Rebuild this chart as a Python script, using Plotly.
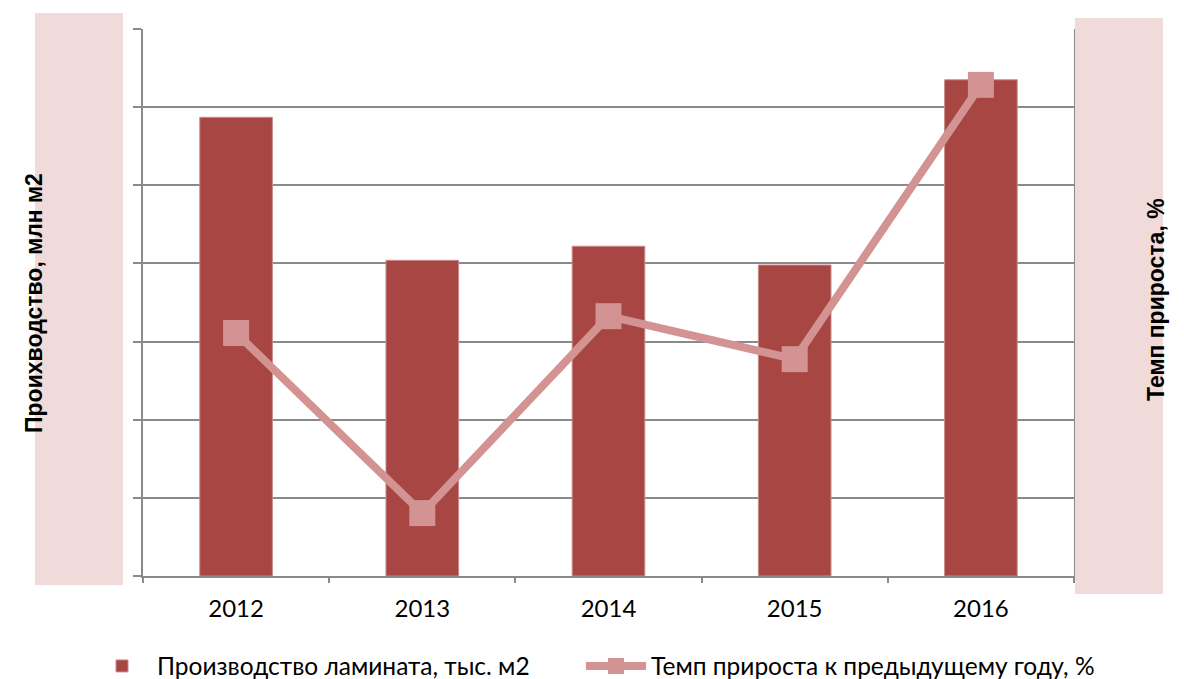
import plotly.graph_objects as go

years = ["2012", "2013", "2014", "2015", "2016"]
production = [58.7, 40.4, 42.2, 39.8, 63.5]
growth = [22.2, -23.9, 26.5, 15.5, 85.7]

bar_name = "Производство ламината, тыс. м2"
line_name = "Темп прироста к предыдущему году, %"
left_title = "Проихводство, млн м2"
right_title = "Темп прироста, %"

BAR = "#A84644"
LINE = "#D49393"
PINK = "#F0DADA"
GRID = "#8A8A8A"
W, H = 1184, 679
L, R, T, B = 143, 1074, 29, 576

def px(x):
    return (x - L) / (R - L)

def py(y):
    return (B - y) / (B - T)

fig = go.Figure()
fig.add_trace(go.Bar(
    x=years, y=production, name=bar_name, width=0.39, legend="legend",
    marker=dict(color=BAR, line=dict(color="#C98B8A", width=1)),
))
fig.add_trace(go.Scatter(
    x=years, y=growth, name=line_name, yaxis="y2", mode="lines+markers", legend="legend2",
    line=dict(color=LINE, width=8),
    marker=dict(symbol="square", size=26, color=LINE),
))

shapes = [
    dict(type="rect", xref="paper", yref="paper", x0=px(35), x1=px(123), y0=py(585), y1=py(13),
         fillcolor=PINK, line=dict(width=0), layer="above"),
    dict(type="rect", xref="paper", yref="paper", x0=px(1075), x1=px(1163), y0=py(594), y1=py(18),
         fillcolor=PINK, line=dict(width=0), layer="above"),
]

annotations = [
    dict(text=left_title, xref="paper", yref="paper", x=px(19), y=py(303), textangle=-90,
         showarrow=False, font=dict(family="Liberation Sans, Arial", size=23, color="black", weight="bold")),
    dict(text=right_title, xref="paper", yref="paper", x=px(1171), y=py(300), textangle=-90,
         showarrow=False, font=dict(family="Liberation Sans, Arial", size=23, color="black", weight="bold")),
]

legend_common = dict(orientation="h", xanchor="left", yanchor="middle", y=py(666),
                     font=dict(size=24.5), itemwidth=60, bgcolor="rgba(0,0,0,0)")

fig.update_layout(
    width=W, height=H,
    margin=dict(l=L, r=W - R, t=T, b=H - B, autoexpand=False),
    paper_bgcolor="white", plot_bgcolor="white",
    font=dict(family="Lato, Open Sans, sans-serif", size=24, color="black"),
    showlegend=True,
    legend=dict(x=px(87), **legend_common),
    legend2=dict(x=px(581), **legend_common),
    bargap=0.61,
    xaxis=dict(type="category", showline=True, linecolor=GRID, linewidth=1.5,
               ticks="outside", tickson="boundaries", ticklen=5, tickcolor=GRID, tickwidth=1.5,
               showgrid=False, tickfont=dict(size=24), ticklabelstandoff=10),
    yaxis=dict(range=[0, 70], dtick=10, showgrid=True, gridcolor=GRID, gridwidth=1.5,
               showline=True, linecolor=GRID, linewidth=1.5, ticks="outside", ticklen=8,
               tickcolor=GRID, tickwidth=1.5, showticklabels=False, zeroline=False),
    yaxis2=dict(range=[-40, 100], dtick=20, overlaying="y", side="right", showgrid=False,
                showline=True, linecolor=GRID, linewidth=1.5, showticklabels=False,
                zeroline=False, ticks=""),
    shapes=shapes,
    annotations=annotations,
)

fig.write_html("out.html", config={"displayModeBar": False},
               post_script="document.body.style.margin='0';document.body.style.overflow='hidden';")
